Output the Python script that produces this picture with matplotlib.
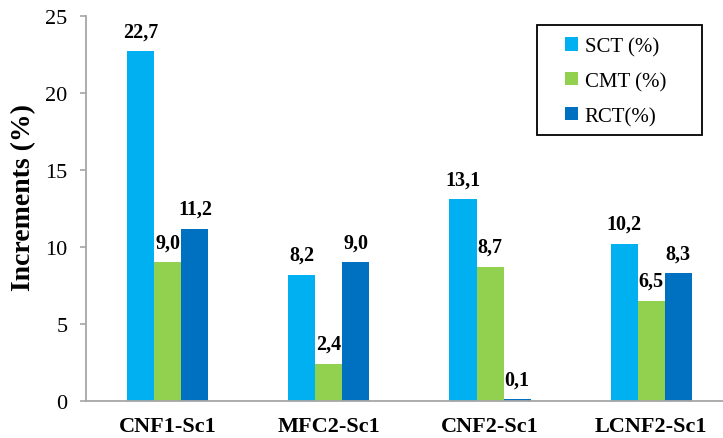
import matplotlib
matplotlib.use("Agg")
import matplotlib.pyplot as plt
from matplotlib.patches import Rectangle
import numpy as np

categories = ["CNF1-Sc1", "MFC2-Sc1", "CNF2-Sc1", "LCNF2-Sc1"]
series_names = ["SCT (%)", "CMT (%)", "RCT(%)"]
sct = [22.7, 8.2, 13.1, 10.2]
cmt = [9.0, 2.4, 8.7, 6.5]
rct = [11.2, 9.0, 0.1, 8.3]
colors = ["#00B0F0", "#92D050", "#0070C0"]

plt.rcParams['font.family'] = ['Liberation Serif', 'DejaVu Serif']

W, H = 723, 439
fig = plt.figure(figsize=(W / 100, H / 100), dpi=100)
ax = fig.add_axes([86 / W, (H - 402) / H, 637 / W, 385 / H])

x = np.arange(len(categories))
w = 0.1677
for i, (vals, name, c) in enumerate(zip([sct, cmt, rct], series_names, colors)):
    pos = x + (i - 1) * w
    ax.bar(pos, vals, width=w, color=c, label=name)
    for p, v in zip(pos, vals):
        ax.annotate(f"{v:.1f}".replace(".", ","), xy=(p, v), xytext=(0, 15),
                    textcoords="offset pixels", ha="center", va="baseline",
                    fontsize=14.5, fontweight="bold")

ax.set_xlim(-0.509, 3.447)
ax.set_ylim(0, 25)
ax.set_yticks([0, 5, 10, 15, 20, 25])
ax.set_xticks(x)
ax.set_xticklabels(categories, fontsize=16, fontweight="bold")
ax.tick_params(axis='y', labelsize=16, length=4.3, width=1.2, color="#A6A6A6",
               direction='out', pad=9)
ax.tick_params(axis='x', length=0, pad=11)
ax.set_ylabel("Increments (%)", fontsize=20, fontweight="bold")
ax.yaxis.set_label_coords(-0.079, 0.531)
for s in ["top", "right"]:
    ax.spines[s].set_visible(False)
for s in ["left", "bottom"]:
    ax.spines[s].set_color("#A6A6A6")
    ax.spines[s].set_linewidth(1.3)

# legend box
fig.patches.append(Rectangle((537 / W, (H - 136) / H), 165 / W, 110 / H,
                             transform=fig.transFigure, fill=False,
                             edgecolor="black", linewidth=1.3, zorder=5))
leg = ax.legend(loc="upper left", bbox_to_anchor=(565 / W, (H - 38) / H),
                bbox_transform=fig.transFigure, fontsize=15,
                frameon=False, handlelength=0.6, handleheight=0.6,
                labelspacing=0.75, borderpad=0.0, borderaxespad=0.0,
                handletextpad=0.35)

fig.savefig("out.png", dpi=100)
